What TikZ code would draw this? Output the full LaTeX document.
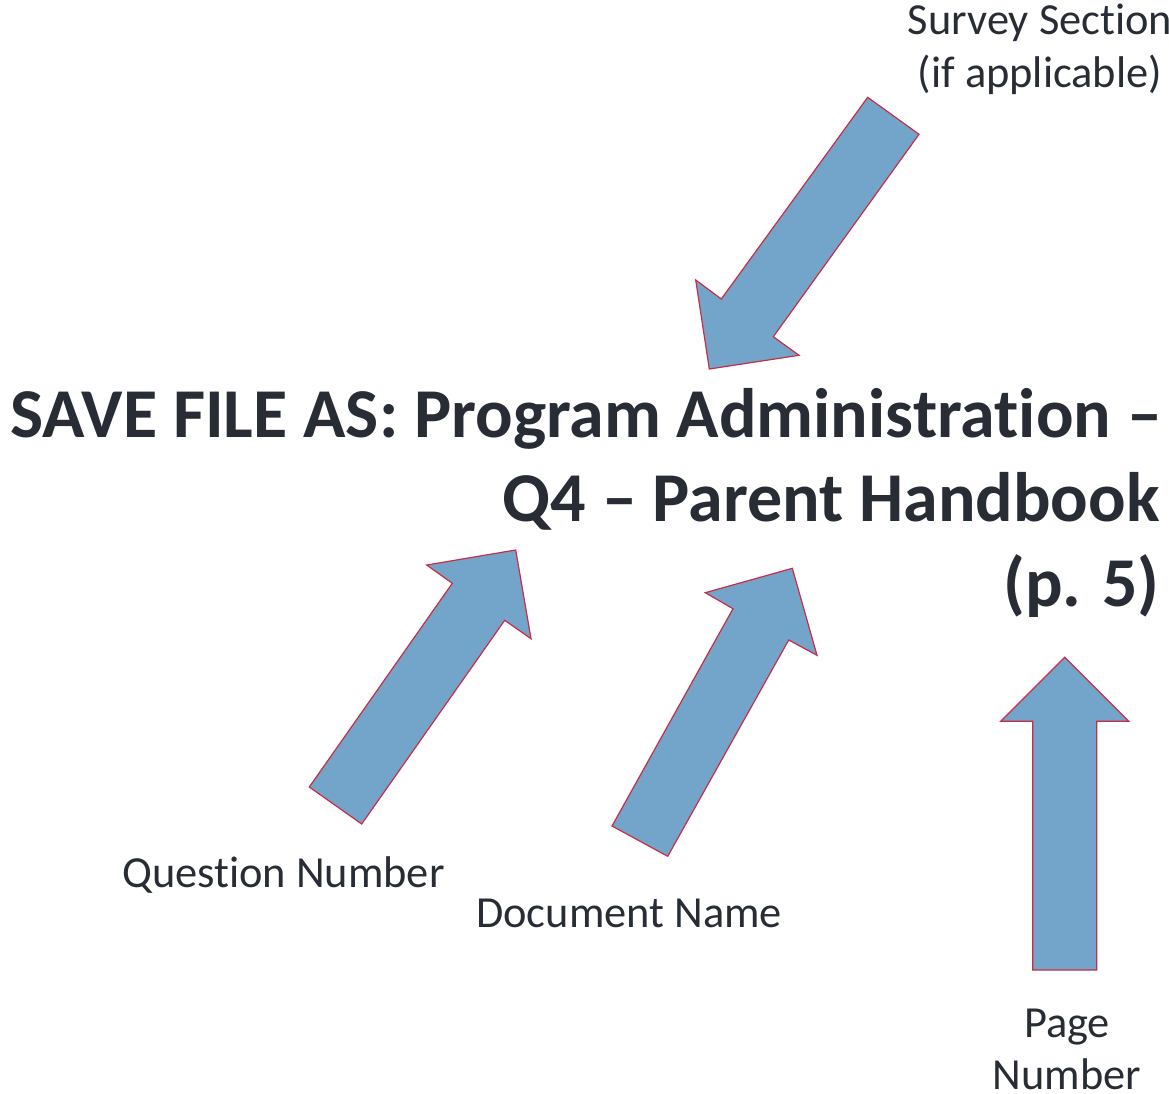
\documentclass[tikz,border=0pt]{standalone}
\usepackage{fontspec}
\setmainfont{Carlito}[RawFeature={-liga;-clig;-calt;-dlig}]
\definecolor{txt}{RGB}{40,45,53}
\definecolor{arrfill}{RGB}{115,165,202}
\definecolor{arredge}{RGB}{200,45,70}
\begin{document}
\begin{tikzpicture}[x=0.75pt,y=-0.75pt,
  blockarrow/.style={fill=arrfill,draw=arredge,line width=0.9pt,line join=miter},
  titletext/.style={text=txt,font=\fontsize{52.5}{63}\selectfont\bfseries,inner sep=0pt,anchor=base east},
  labeltext/.style={text=txt,font=\fontsize{33.3}{39}\selectfont,inner sep=0pt,anchor=base}]
\useasboundingbox (0,0) rectangle (1169,1094);
\clip (0,0) rectangle (1169,1094);
% title
\node[titletext] (title1) at (1162,437) {SAVE FILE AS: Program Administrat\kern0pt ion –};
\node[titletext] (title2) at (1160,521) {Q4 – Parent Handbook};
\node[titletext] (title3) at (1160,606) {(p. 5)};
% labels
\node[labeltext] (survey1) at (1040,35) {Survey Sect\kern0pt ion};
\node[labeltext] (survey2) at (1040,88) {(if applicable)};
\node[labeltext,anchor=base west] (question) at (122,887) {Question Number};
\node[labeltext,anchor=base west] (document) at (476,927) {Document Name};
\node[labeltext] (page1) at (1067,1037) {Page};
\node[labeltext] (page2) at (1067,1089) {Number};
% block arrows
\draw[blockarrow] (867.7,97.3) -- (919,134.3) -- (773.3,336.7) -- (799,355.3) -- (709.3,369) -- (695.7,280) -- (721.3,299) -- cycle;
\draw[blockarrow] (309.3,787) -- (361.7,824) -- (504.7,620.3) -- (531,638.7) -- (515.7,550) -- (426.7,565) -- (452.3,583.3) -- cycle;
\draw[blockarrow] (612,826) -- (667.7,856.3) -- (788.7,640) -- (817,655.3) -- (792.3,568.3) -- (705.3,592.7) -- (733,608.7) -- cycle;
\draw[blockarrow] (1032.7,970) -- (1096.7,970) -- (1096.7,721.3) -- (1128.7,721.3) -- (1064.7,657.3) -- (1000.7,721.3) -- (1032.7,721.3) -- cycle;
\end{tikzpicture}
\end{document}
